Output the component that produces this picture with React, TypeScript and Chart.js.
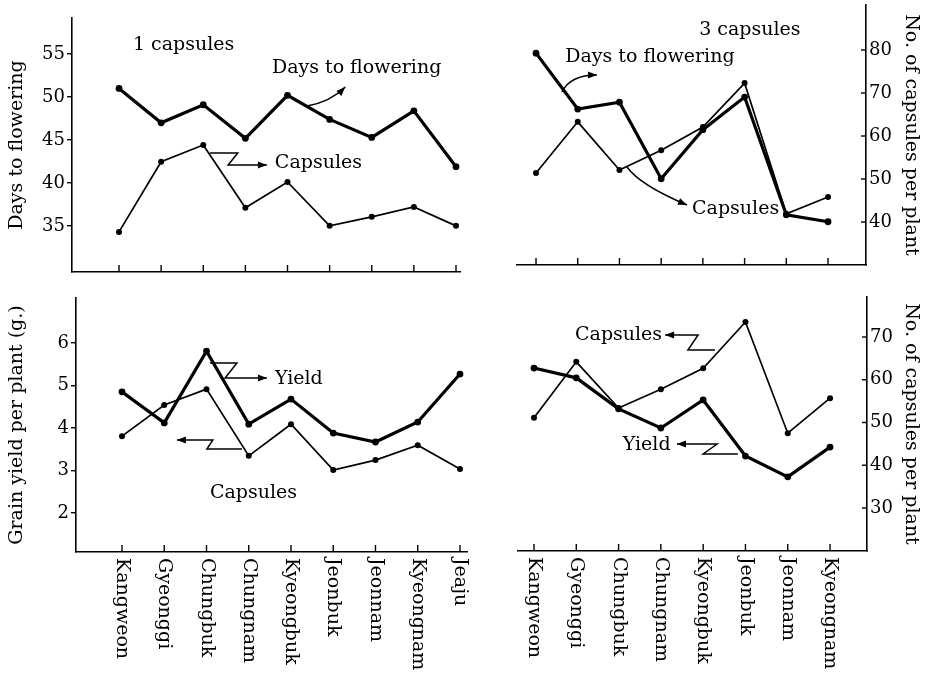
import React, { useEffect, useRef } from 'react';
import { Chart, registerables } from 'chart.js';

Chart.register(...registerables);

// ---------- data ----------
const regions9 = ['Kangweon', 'Gyeonggi', 'Chungbuk', 'Chungnam', 'Kyeongbuk', 'Jeonbuk', 'Jeonnam', 'Kyeongnam', 'Jeaju'];
const regions8 = ['Kangweon', 'Gyeonggi', 'Chungbuk', 'Chungnam', 'Kyeongbuk', 'Jeonbuk', 'Jeonnam', 'Kyeongnam'];

const daysTicks = [35, 40, 45, 50, 55];
const capsTopTicks = [40, 50, 60, 70, 80];
const yieldTicks = [2, 3, 4, 5, 6];
const capsBottomTicks = [30, 40, 50, 60, 70];

// 1 capsule type (left panels)
const days1 = [51.0, 47.0, 49.1, 45.2, 50.2, 47.4, 45.3, 48.4, 41.9];
const caps1Top = [37.7, 54.0, 57.9, 43.3, 49.3, 39.1, 41.2, 43.5, 39.1];
const yield1 = [4.85, 4.12, 5.81, 4.09, 4.68, 3.88, 3.67, 4.14, 5.27];
const caps1Bottom = [46.8, 54.1, 57.8, 42.2, 49.6, 38.9, 41.2, 44.7, 39.1];

// 3 capsule type (right panels)
const days3 = [55.1, 48.6, 49.4, 40.5, 46.2, 50.0, 36.3, 35.5];
const caps3Top = [51.4, 63.3, 52.1, 56.7, 62.1, 72.3, 41.9, 45.8];
const yield3 = [5.41, 5.18, 4.45, 4.0, 4.66, 3.34, 2.85, 3.55];
const caps3Bottom = [51.1, 64.2, 53.4, 57.8, 62.7, 73.5, 47.5, 55.7];

// ---------- helpers ----------
const W = 927;
const H = 674;
const FONT = 'DejaVu Serif';

type Note =
  | { axis: 'y' | 'y1'; text: string; at: [number, number] }
  | { axis: 'y' | 'y1'; path: [number, number][]; curve?: boolean };

type Panel = {
  labels: string[];
  area: { left: number; top: number; right: number; bottom: number };
  xMin: number;
  xMax: number;
  visible: 'left' | 'right';
  y: { min: number; max: number; ticks?: number[]; title?: string };
  y1: { min: number; max: number; ticks?: number[]; title?: string };
  series: { data: number[]; axis: 'y' | 'y1'; thick: boolean }[];
  showLabels: boolean;
  notes: Note[];
};

function arrowHead(ctx: CanvasRenderingContext2D, fx: number, fy: number, tx: number, ty: number) {
  const a = Math.atan2(ty - fy, tx - fx);
  const len = 9;
  const wid = 3.5;
  ctx.beginPath();
  ctx.moveTo(tx, ty);
  ctx.lineTo(tx - len * Math.cos(a) + wid * Math.sin(a), ty - len * Math.sin(a) - wid * Math.cos(a));
  ctx.lineTo(tx - len * Math.cos(a) - wid * Math.sin(a), ty - len * Math.sin(a) + wid * Math.cos(a));
  ctx.closePath();
  ctx.fill();
}

function makeDeco(p: Panel) {
  return {
    id: 'deco',
    afterDraw(chart: any) {
      const ctx: CanvasRenderingContext2D = chart.ctx;
      const xs = chart.scales.x;
      const area = chart.chartArea;
      ctx.save();
      ctx.strokeStyle = '#000';
      ctx.fillStyle = '#000';
      ctx.lineWidth = 1.4;
      // inward x tick marks
      p.labels.forEach((_, i) => {
        const px = xs.getPixelForValue(i);
        ctx.beginPath();
        ctx.moveTo(px, area.bottom);
        ctx.lineTo(px, area.bottom - 7);
        ctx.stroke();
      });
      // inward right-axis tick marks
      if (p.visible === 'right' && p.y1.ticks) {
        const ys = chart.scales.y1;
        p.y1.ticks.forEach((v) => {
          const py = ys.getPixelForValue(v);
          ctx.beginPath();
          ctx.moveTo(area.right, py);
          ctx.lineTo(area.right - 5, py);
          ctx.stroke();
        });
      }
      // rotated category labels
      if (p.showLabels) {
        ctx.font = `19px "${FONT}"`;
        ctx.textAlign = 'left';
        ctx.textBaseline = 'middle';
        p.labels.forEach((lab, i) => {
          const px = xs.getPixelForValue(i);
          ctx.save();
          ctx.translate(px, area.bottom + 6);
          ctx.rotate(Math.PI / 2);
          ctx.fillText(lab, 0, 0);
          ctx.restore();
        });
      }
      // annotations
      ctx.font = `19px "${FONT}"`;
      ctx.textAlign = 'left';
      ctx.textBaseline = 'middle';
      ctx.lineWidth = 1.5;
      p.notes.forEach((n) => {
        const ys = chart.scales[n.axis];
        if ('text' in n) {
          ctx.fillText(n.text, xs.getPixelForValue(n.at[0]), ys.getPixelForValue(n.at[1]));
        } else {
          const pts = n.path.map(([x, y]) => [xs.getPixelForValue(x), ys.getPixelForValue(y)]);
          ctx.beginPath();
          ctx.moveTo(pts[0][0], pts[0][1]);
          if (n.curve && pts.length === 3) {
            ctx.quadraticCurveTo(pts[1][0], pts[1][1], pts[2][0], pts[2][1]);
          } else {
            for (let i = 1; i < pts.length; i++) ctx.lineTo(pts[i][0], pts[i][1]);
          }
          ctx.stroke();
          const a = pts[pts.length - 2];
          const b = pts[pts.length - 1];
          arrowHead(ctx, a[0], a[1], b[0], b[1]);
        }
      });
      ctx.restore();
    },
  };
}

function buildConfig(p: Panel): any {
  const { area } = p;
  const xAxisH = 10;
  const tickSet = (vals: number[]) => (s: any) => {
    s.ticks = vals.map((v) => ({ value: v }));
  };
  const yAxis = (which: 'y' | 'y1') => {
    const a = which === 'y' ? p.y : p.y1;
    const pos = which === 'y' ? 'left' : 'right';
    const vis = p.visible === pos;
    return {
      type: 'linear',
      position: pos,
      display: vis,
      min: a.min,
      max: a.max,
      bounds: 'data',
      afterBuildTicks: a.ticks ? tickSet(a.ticks) : undefined,
      ticks: { color: '#000', font: { family: FONT, size: 18 }, padding: pos === 'left' ? 2 : 3 },
      grid: {
        display: true,
        drawOnChartArea: false,
        drawTicks: pos === 'left',
        tickLength: 5,
        color: '#000',
        lineWidth: 1.4,
      },
      border: { display: true, color: '#000', width: 1.6 },
      title: {
        display: !!a.title,
        text: a.title,
        color: '#000',
        font: { family: FONT, size: 19 },
        padding: { top: pos === 'left' ? 6 : 5, bottom: 0 },
      },
      afterFit: (s: any) => {
        s.width = vis ? (pos === 'left' ? area.left : W - area.right) : 0;
        s.paddingTop = 0;
        s.paddingBottom = 0;
      },
    };
  };

  return {
    type: 'line',
    data: {
      datasets: p.series.map((s) => ({
        data: s.data.map((v, i) => ({ x: i, y: v })),
        yAxisID: s.axis,
        borderColor: '#000',
        backgroundColor: '#000',
        borderWidth: s.thick ? 3.2 : 1.7,
        pointRadius: s.thick ? 3.4 : 3,
        pointBackgroundColor: '#000',
        pointBorderWidth: 0,
        tension: 0,
        fill: false,
      })),
    },
    options: {
      responsive: false,
      animation: false,
      devicePixelRatio: 1,
      layout: {
        padding: {
          left: p.visible === 'left' ? 0 : area.left,
          right: p.visible === 'right' ? 0 : W - area.right,
          top: area.top,
          bottom: H - area.bottom - xAxisH,
        },
      },
      plugins: { legend: { display: false }, tooltip: { enabled: false } },
      scales: {
        x: {
          type: 'linear',
          min: p.xMin,
          max: p.xMax,
          bounds: 'data',
          afterBuildTicks: tickSet(p.labels.map((_, i) => i)),
          ticks: { display: false },
          grid: { display: true, drawOnChartArea: false, drawTicks: false, color: '#000' },
          border: { display: true, color: '#000', width: 1.6 },
          afterFit: (s: any) => {
            s.height = xAxisH;
            s.paddingLeft = 0;
            s.paddingRight = 0;
          },
        },
        y: yAxis('y'),
        y1: yAxis('y1'),
      },
    },
    plugins: [makeDeco(p)],
  };
}

// ---------- panels ----------
const panels: Panel[] = [
  {
    labels: regions9,
    area: { left: 72, top: 18, right: 460, bottom: 272 },
    xMin: -1.116,
    xMax: 8.095,
    visible: 'left',
    y: { min: 29.65, max: 59.19, ticks: daysTicks, title: 'Days to flowering' },
    y1: { min: 28.37, max: 87.44 },
    series: [
      { data: days1, axis: 'y', thick: true },
      { data: caps1Top, axis: 'y1', thick: false },
    ],
    showLabels: false,
    notes: [
      { axis: 'y', text: '1 capsules', at: [0.33, 56.05] },
      { axis: 'y', text: 'Days to flowering', at: [3.63, 53.37] },
      { axis: 'y', path: [[4.46, 48.95], [5.02, 49.42], [5.37, 51.16]], curve: true },
      { axis: 'y', text: 'Capsules', at: [3.7, 42.33] },
      { axis: 'y', path: [[2.16, 43.49], [2.82, 43.49], [2.59, 42.09], [3.51, 42.09]] },
    ],
  },
  {
    labels: regions8,
    area: { left: 517, top: 5, right: 866, bottom: 265 },
    xMin: -0.456,
    xMax: 7.91,
    visible: 'right',
    y: { min: 30.47, max: 60.7 },
    y1: { min: 30.0, max: 90.47, ticks: capsTopTicks, title: 'No. of capsules per plant' },
    series: [
      { data: days3, axis: 'y', thick: true },
      { data: caps3Top, axis: 'y1', thick: false },
    ],
    showLabels: false,
    notes: [
      { axis: 'y1', text: '3 capsules', at: [3.91, 84.65] },
      { axis: 'y1', text: 'Days to flowering', at: [0.7, 78.37] },
      { axis: 'y1', path: [[0.62, 70.23], [0.82, 74.19], [1.46, 74.19]], curve: true },
      { axis: 'y1', text: 'Capsules', at: [3.74, 43.02] },
      { axis: 'y1', path: [[2.18, 52.79], [2.49, 48.6], [3.62, 43.95]], curve: true },
    ],
  },
  {
    labels: regions9,
    area: { left: 76, top: 298, right: 467, bottom: 552 },
    xMin: -1.089,
    xMax: 8.166,
    visible: 'left',
    y: { min: 1.082, max: 7.059, ticks: yieldTicks, title: 'Grain yield per plant (g.)' },
    y1: { min: 19.71, max: 79.12 },
    series: [
      { data: yield1, axis: 'y', thick: true },
      { data: caps1Bottom, axis: 'y1', thick: false },
    ],
    showLabels: true,
    notes: [
      { axis: 'y', text: 'Yield', at: [3.62, 5.153] },
      { axis: 'y', path: [[2.08, 5.529], [2.72, 5.529], [2.44, 5.176], [3.43, 5.176]] },
      { axis: 'y', path: [[2.84, 3.506], [2.01, 3.506], [2.15, 3.718], [1.3, 3.718]] },
      { axis: 'y', text: 'Capsules', at: [2.08, 2.47] },
    ],
  },
  {
    labels: regions8,
    area: { left: 518, top: 297, right: 867, bottom: 551 },
    xMin: -0.378,
    xMax: 7.874,
    visible: 'right',
    y: { min: 1.106, max: 7.082 },
    y1: { min: 19.94, max: 79.36, ticks: capsBottomTicks, title: 'No. of capsules per plant' },
    series: [
      { data: yield3, axis: 'y', thick: true },
      { data: caps3Bottom, axis: 'y1', thick: false },
    ],
    showLabels: true,
    notes: [
      { axis: 'y1', text: 'Capsules', at: [0.97, 70.47] },
      { axis: 'y1', path: [[4.28, 66.96], [3.64, 66.96], [3.88, 70.47], [3.1, 70.47]] },
      { axis: 'y1', text: 'Yield', at: [2.1, 44.74] },
      { axis: 'y1', path: [[4.82, 42.63], [4.0, 42.63], [4.33, 44.97], [3.38, 44.97]] },
    ],
  },
];

function PanelChart({ panel }: { panel: Panel }) {
  const ref = useRef<HTMLCanvasElement>(null);
  useEffect(() => {
    const chart = new Chart(ref.current as HTMLCanvasElement, buildConfig(panel));
    return () => chart.destroy();
  }, [panel]);
  return (
    <canvas
      ref={ref}
      width={W}
      height={H}
      style={{ position: 'absolute', left: 0, top: 0, width: W, height: H }}
    />
  );
}

export default function App() {
  return (
    <div style={{ position: 'absolute', left: 0, top: 0, width: W, height: H, background: '#fff', overflow: 'hidden' }}>
      {panels.map((p, i) => (
        <PanelChart key={i} panel={p} />
      ))}
    </div>
  );
}
